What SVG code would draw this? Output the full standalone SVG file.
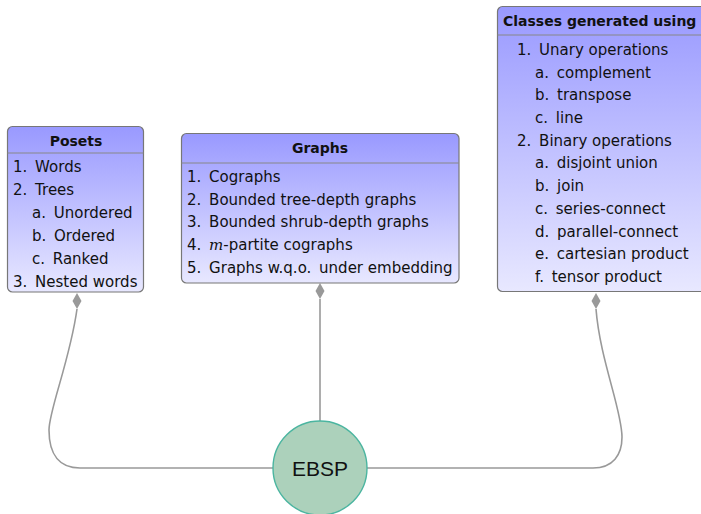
<svg xmlns="http://www.w3.org/2000/svg" width="701" height="514" viewBox="0 0 701 514">
  <defs>
    <linearGradient id="boxFill" x1="0" y1="0" x2="0" y2="1">
      <stop offset="0" stop-color="#9999ff"/>
      <stop offset="1" stop-color="#e8e8ff"/>
    </linearGradient>
    <style>
      .box { fill: url(#boxFill); stroke: #777; stroke-width: 1.2; }
      .sep { stroke: #888; stroke-width: 1.2; }
      .title { font-family: "DejaVu Sans", sans-serif; font-weight: bold; font-size: 14px; fill: #111; }
      .item { font-family: "DejaVu Sans", sans-serif; font-size: 15px; fill: #111; }
      .conn { fill: none; stroke: #999; stroke-width: 1.6; }
      .dia { fill: #999; }
    </style>
  </defs>

  <!-- connectors -->
  <g id="connectors">
    <path class="conn" d="M77 309 C 70 360, 49 410, 49 430 C 49 455, 60 468, 80 468 L 273 468"/>
    <path class="dia" d="M77 293 L81.5 301 L77 309 L72.5 301 Z"/>
    <path class="conn" d="M320 299 L320 421"/>
    <path class="dia" d="M320 283 L324.5 291 L320 299 L315.5 291 Z"/>
    <path class="conn" d="M367 468 L593 468 C 613 468, 622 455, 622 437 C 622 410, 600 360, 596 309"/>
    <path class="dia" d="M596 293 L600.5 301 L596 309 L591.5 301 Z"/>
  </g>

  <!-- Posets -->
  <g id="posets">
    <rect class="box" x="7.5" y="126.5" width="136" height="165.5" rx="5"/>
    <line class="sep" x1="7.5" y1="153" x2="143.5" y2="153"/>
    <text class="title" x="76" y="146" text-anchor="middle">Posets</text>
    <text class="item" x="13" y="172">1. <tspan dx="3">Words</tspan></text>
    <text class="item" x="13" y="195">2. <tspan dx="3">Trees</tspan></text>
    <text class="item" x="32" y="218">a. <tspan dx="3">Unordered</tspan></text>
    <text class="item" x="32" y="241">b. <tspan dx="3">Ordered</tspan></text>
    <text class="item" x="32" y="264">c. <tspan dx="3">Ranked</tspan></text>
    <text class="item" x="13" y="287">3. <tspan dx="3">Nested words</tspan></text>
  </g>

  <!-- Graphs -->
  <g id="graphs">
    <rect class="box" x="181.5" y="133.5" width="277.5" height="149.5" rx="5"/>
    <line class="sep" x1="181.5" y1="163" x2="459" y2="163"/>
    <text class="title" x="320" y="153" text-anchor="middle">Graphs</text>
    <text class="item" x="187" y="182">1. <tspan dx="3">Cographs</tspan></text>
    <text class="item" x="187" y="205">2. <tspan dx="3">Bounded tree-depth graphs</tspan></text>
    <text class="item" x="187" y="227">3. <tspan dx="3">Bounded shrub-depth graphs</tspan></text>
    <text class="item" x="187" y="250">4. <tspan dx="3" font-family="'DejaVu Serif', serif" font-style="italic">m</tspan>-partite cographs</text>
    <text class="item" x="187" y="273">5. <tspan dx="3">Graphs w.q.o.</tspan> <tspan dx="3">under embedding</tspan></text>
  </g>

  <!-- Classes generated using operations -->
  <g id="classes">
    <rect class="box" x="497.5" y="6.5" width="215" height="285" rx="5"/>
    <line class="sep" x1="497.5" y1="35" x2="712" y2="35"/>
    <text class="title" x="503" y="26">Classes generated using</text>
    <text class="item" x="517" y="55">1. <tspan dx="3">Unary operations</tspan></text>
    <text class="item" x="535" y="78">a. <tspan dx="3">complement</tspan></text>
    <text class="item" x="535" y="100">b. <tspan dx="3">transpose</tspan></text>
    <text class="item" x="535" y="123">c. <tspan dx="3">line</tspan></text>
    <text class="item" x="517" y="146">2. <tspan dx="3">Binary operations</tspan></text>
    <text class="item" x="535" y="168">a. <tspan dx="3">disjoint union</tspan></text>
    <text class="item" x="535" y="191">b. <tspan dx="3">join</tspan></text>
    <text class="item" x="535" y="214">c. <tspan dx="3">series-connect</tspan></text>
    <text class="item" x="535" y="237">d. <tspan dx="3">parallel-connect</tspan></text>
    <text class="item" x="535" y="259">e. <tspan dx="3">cartesian product</tspan></text>
    <text class="item" x="535" y="282">f. <tspan dx="3">tensor product</tspan></text>
  </g>

  <!-- EBSP -->
  <g id="ebsp">
    <circle cx="320" cy="468" r="47" fill="#acd1bb" stroke="#4bb5a0" stroke-width="1.4"/>
    <text x="320" y="476" text-anchor="middle" font-family="'Liberation Sans', Arial, sans-serif" font-size="21" fill="#111">EBSP</text>
  </g>
</svg>
